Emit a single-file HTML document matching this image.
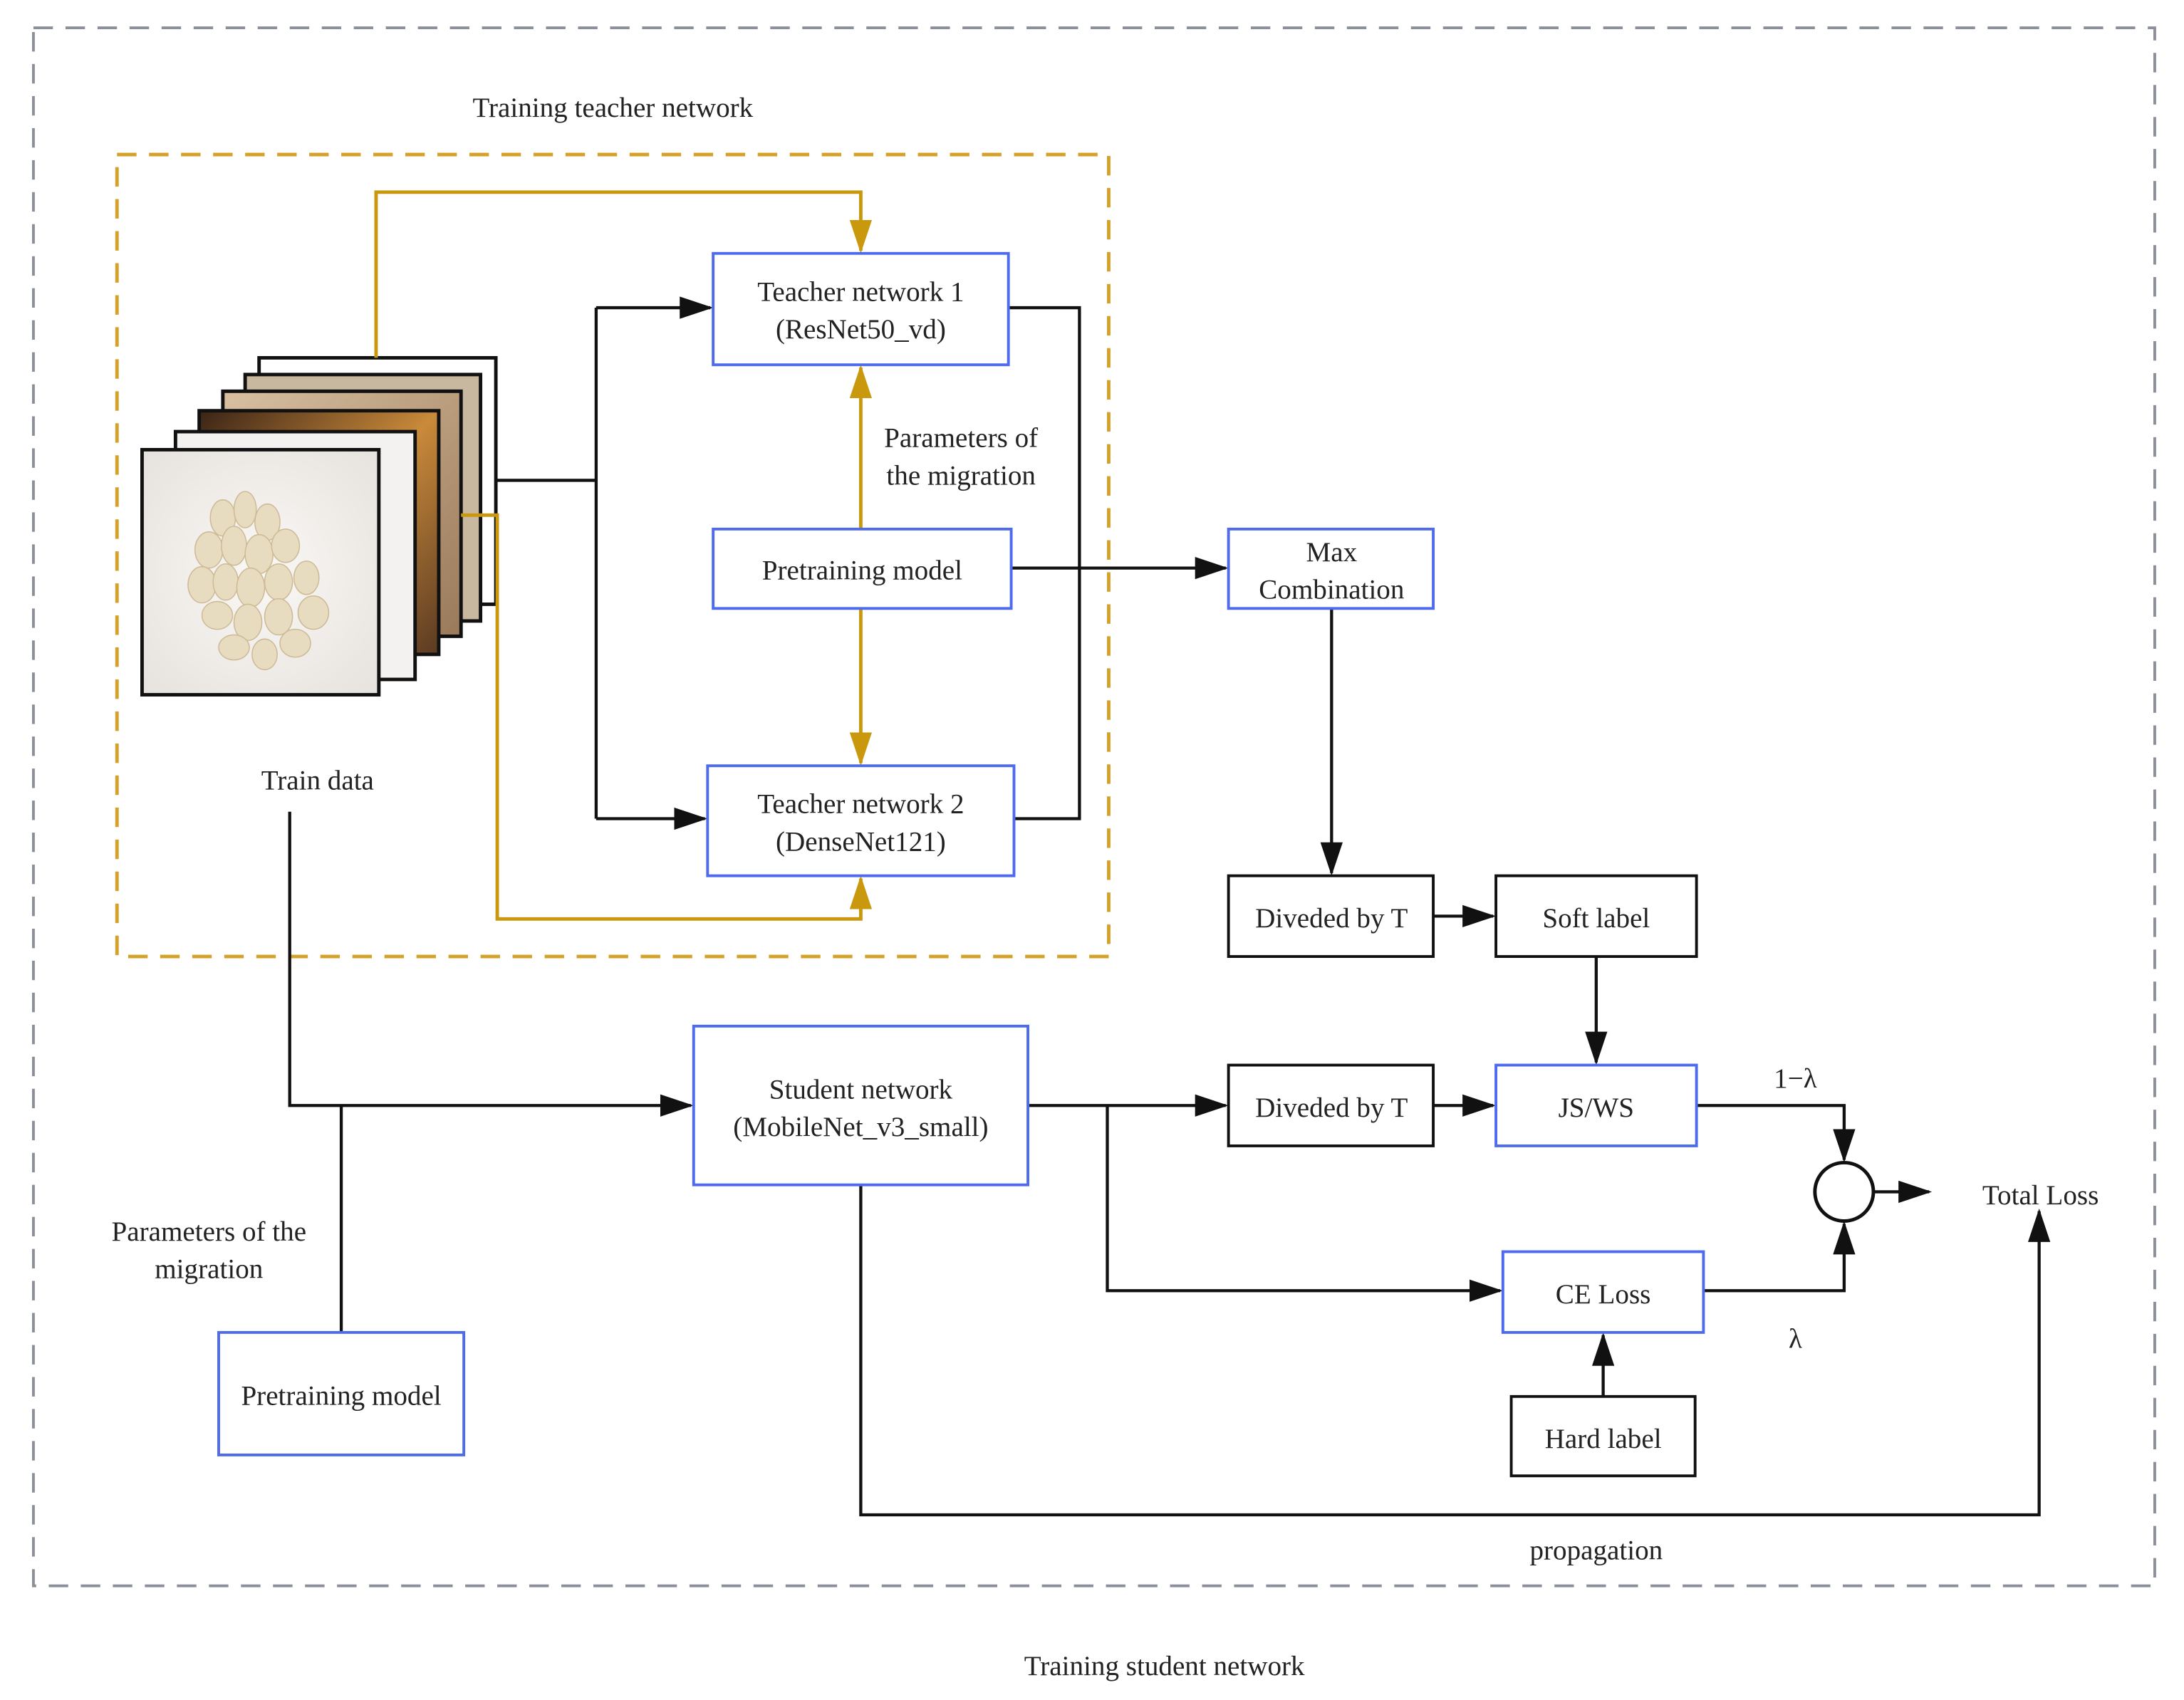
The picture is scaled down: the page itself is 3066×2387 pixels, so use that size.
<!DOCTYPE html>
<html><head><meta charset="utf-8"><style>
html,body{margin:0;padding:0;background:#fff;}
svg{display:block;}
text{font-family:"Liberation Serif",serif;font-size:20px;fill:#222;text-anchor:middle;}
</style></head><body>
<svg width="3066" height="2387" viewBox="0 0 1568 1221" preserveAspectRatio="none" xmlns="http://www.w3.org/2000/svg">
<defs>
<marker id="ab" markerWidth="10" markerHeight="10" refX="9" refY="5" orient="auto" markerUnits="userSpaceOnUse" viewBox="0 0 10 10"><path d="M0,0 L10,5 L0,10 z" fill="#111"/></marker>
<marker id="ao" markerWidth="10" markerHeight="10" refX="9" refY="5" orient="auto" markerUnits="userSpaceOnUse" viewBox="0 0 10 10"><path d="M0,0 L10,5 L0,10 z" fill="#c9980c"/></marker>
<marker id="abig" markerWidth="24" markerHeight="16" refX="22" refY="8" orient="auto" markerUnits="userSpaceOnUse" viewBox="0 0 24 16"><path d="M0,0 L24,8 L0,16 z" fill="#111"/></marker>
<marker id="obig" markerWidth="24" markerHeight="16" refX="22" refY="8" orient="auto" markerUnits="userSpaceOnUse" viewBox="0 0 24 16"><path d="M0,0 L24,8 L0,16 z" fill="#c9980c"/></marker>
<radialGradient id="bg1" cx="0.5" cy="0.5" r="0.7"><stop offset="0" stop-color="#faf8f5"/><stop offset="1" stop-color="#e6e2de"/></radialGradient>
<linearGradient id="brown" x1="0" y1="0" x2="1" y2="1"><stop offset="0" stop-color="#3a2416"/><stop offset="0.5" stop-color="#c98a3a"/><stop offset="1" stop-color="#5a3a22"/></linearGradient>
<linearGradient id="grain" x1="0" y1="0" x2="1" y2="1"><stop offset="0" stop-color="#d8c0a0"/><stop offset="1" stop-color="#9a7a5a"/></linearGradient>
</defs>

<!-- outer dashed -->
<rect x="24" y="20" width="1523" height="1119" fill="none" stroke="#8a8f9a" stroke-width="2" stroke-dasharray="14,9"/>
<rect x="84" y="111" width="712" height="576" fill="none" stroke="#d4a12a" stroke-width="2.5" stroke-dasharray="14,9"/>

<!-- image stack -->
<rect x="186" y="257" width="170" height="177" fill="#fff" stroke="#111" stroke-width="2.5"/>
<rect x="176" y="269" width="169" height="177" fill="#c8b8a0" stroke="#111" stroke-width="2.5"/>
<rect x="160" y="281" width="171" height="176" fill="url(#grain)" stroke="#111" stroke-width="2.5"/>
<rect x="143" y="295" width="172" height="175" fill="url(#brown)" stroke="#111" stroke-width="2.5"/>
<rect x="126" y="310" width="172" height="178" fill="#f4f2f0" stroke="#111" stroke-width="2.5"/>
<rect x="102" y="323" width="170" height="176" fill="url(#bg1)" stroke="#111" stroke-width="2.5"/>
<g fill="#e8dcc0" stroke="#cdbb98" stroke-width="0.8">
<ellipse cx="160" cy="372" rx="9" ry="13"/><ellipse cx="176" cy="366" rx="8" ry="13"/><ellipse cx="192" cy="375" rx="9" ry="13"/>
<ellipse cx="150" cy="395" rx="10" ry="13"/><ellipse cx="168" cy="392" rx="9" ry="14"/><ellipse cx="186" cy="398" rx="10" ry="14"/><ellipse cx="205" cy="392" rx="10" ry="12"/>
<ellipse cx="145" cy="420" rx="10" ry="13"/><ellipse cx="162" cy="418" rx="9" ry="13"/><ellipse cx="180" cy="422" rx="10" ry="14"/><ellipse cx="200" cy="418" rx="10" ry="13"/><ellipse cx="220" cy="415" rx="9" ry="12"/>
<ellipse cx="156" cy="442" rx="11" ry="10"/><ellipse cx="178" cy="447" rx="10" ry="13"/><ellipse cx="200" cy="443" rx="10" ry="13"/><ellipse cx="225" cy="440" rx="11" ry="12"/>
<ellipse cx="168" cy="465" rx="11" ry="9"/><ellipse cx="190" cy="470" rx="9" ry="11"/><ellipse cx="212" cy="462" rx="11" ry="10"/>
</g>

<!-- orange connectors -->
<g fill="none" stroke="#c9980c" stroke-width="2.5">
<polyline points="270,257 270,138 618,138 618,180" marker-end="url(#obig)"/>
<polyline points="331,370 357,370 357,660 618,660 618,631" marker-end="url(#obig)"/>
<line x1="618" y1="380" x2="618" y2="264" marker-end="url(#obig)"/>
<line x1="618" y1="437" x2="618" y2="548" marker-end="url(#obig)"/>
</g>

<!-- black connectors -->
<g fill="none" stroke="#111" stroke-width="2.2">
<polyline points="357,345 428,345"/>
<polyline points="428,221 428,588"/>
<line x1="428" y1="221" x2="510" y2="221" marker-end="url(#abig)"/>
<line x1="428" y1="588" x2="506" y2="588" marker-end="url(#abig)"/>
<polyline points="724,221 775,221 775,588 728,588"/>
<line x1="726" y1="408" x2="880" y2="408" marker-end="url(#abig)"/>
<line x1="956" y1="437" x2="956" y2="627" marker-end="url(#abig)"/>
<line x1="1029" y1="658" x2="1072" y2="658" marker-end="url(#abig)"/>
<line x1="1146" y1="687" x2="1146" y2="763" marker-end="url(#abig)"/>
<polyline points="208,583 208,794 496,794" marker-end="url(#abig)"/>
<line x1="245" y1="794" x2="245" y2="957"/>
<line x1="738" y1="794" x2="880" y2="794" marker-end="url(#abig)"/>
<polyline points="795,794 795,927 1077,927" marker-end="url(#abig)"/>
<line x1="1029" y1="794" x2="1072" y2="794" marker-end="url(#abig)"/>
<polyline points="1218,794 1324,794 1324,833" marker-end="url(#abig)"/>
<polyline points="1223,927 1324,927 1324,879" marker-end="url(#abig)"/>
<line x1="1151" y1="1003" x2="1151" y2="959" marker-end="url(#abig)"/>
<line x1="1345" y1="856" x2="1385" y2="856" marker-end="url(#abig)"/>
<polyline points="618,851 618,1088 1464,1088 1464,870" marker-end="url(#abig)"/>
</g>
<circle cx="1324" cy="856" r="21" fill="#fff" stroke="#111" stroke-width="2.5"/>

<!-- boxes -->
<g fill="#fff" stroke="#4f6bed" stroke-width="2">
<rect x="512" y="182" width="212" height="80"/>
<rect x="512" y="380" width="214" height="57"/>
<rect x="508" y="550" width="220" height="79"/>
<rect x="882" y="380" width="147" height="57"/>
<rect x="498" y="737" width="240" height="114"/>
<rect x="1074" y="765" width="144" height="58"/>
<rect x="1079" y="899" width="144" height="58"/>
<rect x="157" y="957" width="176" height="88"/>
</g>
<g fill="#fff" stroke="#111" stroke-width="2">
<rect x="882" y="629" width="147" height="58"/>
<rect x="1074" y="629" width="144" height="58"/>
<rect x="882" y="765" width="147" height="58"/>
<rect x="1085" y="1003" width="132" height="57"/>
</g>

<!-- labels -->
<text x="440" y="84">Training teacher network</text>
<text x="618" y="216">Teacher network 1</text>
<text x="618" y="243">(ResNet50_vd)</text>
<text x="690" y="321">Parameters of</text>
<text x="690" y="348">the migration</text>
<text x="619" y="416">Pretraining model</text>
<text x="618" y="584">Teacher network 2</text>
<text x="618" y="611">(DenseNet121)</text>
<text x="956" y="403">Max</text>
<text x="956" y="430">Combination</text>
<text x="228" y="567">Train data</text>
<text x="956" y="666">Diveded by T</text>
<text x="1146" y="666">Soft label</text>
<text x="618" y="789">Student network</text>
<text x="618" y="816">(MobileNet_v3_small)</text>
<text x="956" y="802">Diveded by T</text>
<text x="1146" y="802">JS/WS</text>
<text x="1289" y="781">1−λ</text>
<text x="1465" y="865">Total Loss</text>
<text x="150" y="891">Parameters of the</text>
<text x="150" y="918">migration</text>
<text x="1151" y="936">CE Loss</text>
<text x="1289" y="968">λ</text>
<text x="245" y="1009">Pretraining model</text>
<text x="1151" y="1040">Hard label</text>
<text x="1146" y="1120">propagation</text>
<text x="836" y="1203">Training student network</text>
</svg>
</body></html>
